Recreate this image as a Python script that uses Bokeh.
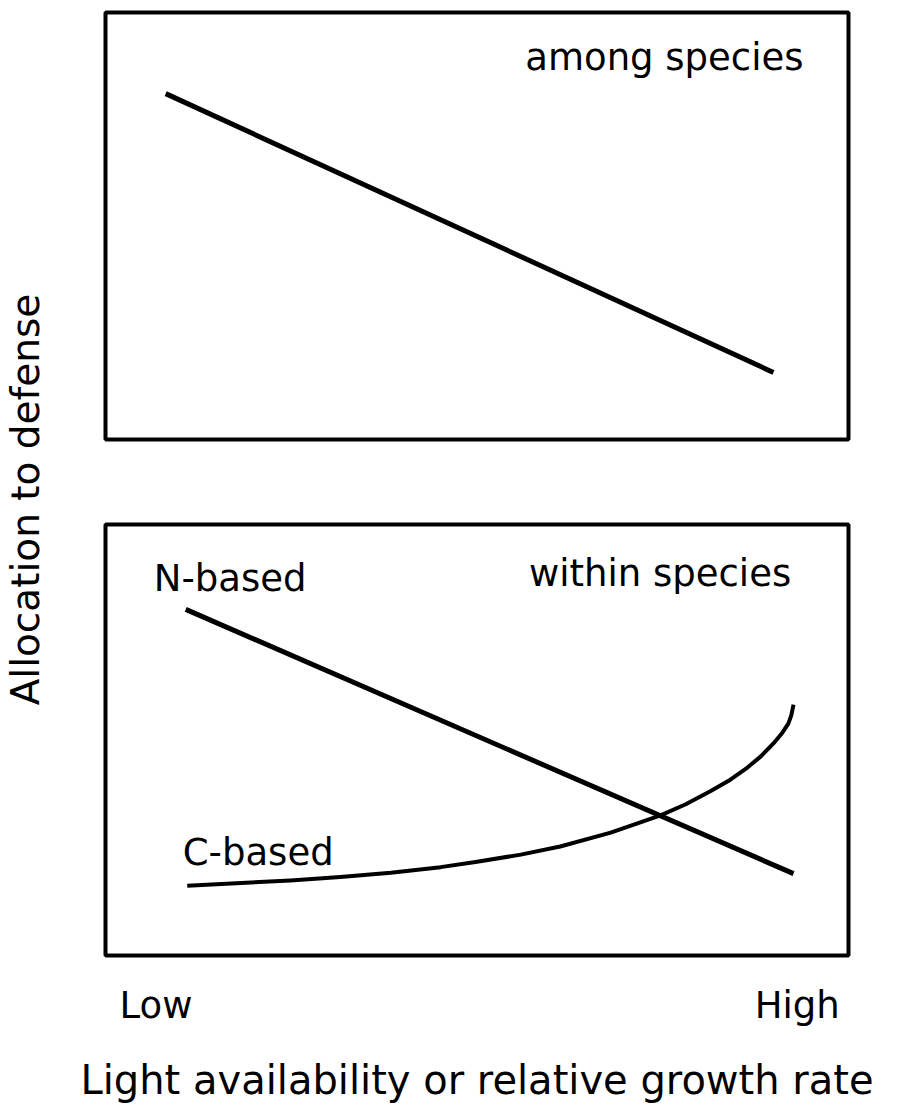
import math
from bokeh.plotting import figure
from bokeh.layouts import row, column
from bokeh.models import Range1d, Label, FixedTicker
from bokeh.embed import file_html
from bokeh.resources import INLINE

# ---- data (relative units, 0..10 on both axes) ----
among_x = [0.81, 8.99]
among_y = [8.10, 1.57]

n_based_x = [1.08, 9.26]
n_based_y = [8.03, 1.90]

c_based_x = [1.10, 2.49, 3.16, 3.84, 4.51, 4.98, 5.59, 6.12, 6.80, 7.47,
             7.81, 8.14, 8.41, 8.64, 8.82, 8.99, 9.11, 9.19, 9.23, 9.26]
c_based_y = [1.62, 1.74, 1.82, 1.92, 2.05, 2.17, 2.34, 2.53, 2.85, 3.25,
             3.51, 3.81, 4.08, 4.36, 4.62, 4.92, 5.17, 5.38, 5.57, 5.82]

x_tick_pos = [0.68, 9.31]
x_tick_labels = ["Low", "High"]

x_title = "Light availability or relative growth rate"
y_title = "Allocation to defense"
top_label = "among species"
bottom_label = "within species"
series_labels = ["N-based", "C-based"]

FONT = "DejaVu Sans"
FS = "37px"
TOTAL_H = 1107


def panel(h, top, bottom):
    p = figure(width=834, height=h, x_range=Range1d(0, 10), y_range=Range1d(0, 10),
               output_backend="svg", toolbar_location=None,
               min_border_left=37, min_border_right=54,
               min_border_top=top, min_border_bottom=bottom)
    p.grid.visible = False
    p.outline_line_color = "black"
    p.outline_line_width = 4
    p.outline_line_alpha = 1.0
    p.background_fill_color = "white"
    p.border_fill_color = "white"
    return p


def add_label(p, x, y, text):
    p.add_layout(Label(x=x, y=y, text=text, text_font=FONT, text_font_size=FS,
                       text_color="black", text_align="left",
                       text_baseline="alphabetic"))


p1 = panel(482, 12, 43)
p1.axis.visible = False
p1.line(among_x, among_y, line_width=5, line_color="black", line_cap="butt")
add_label(p1, 5.65, 8.95, top_label)

p2 = panel(TOTAL_H - 482, 42, TOTAL_H - 482 - 42 - 431)
p2.yaxis.visible = False
p2.line(n_based_x, n_based_y, line_width=5, line_color="black", line_cap="butt")
p2.line(c_based_x, c_based_y, line_width=4, line_color="black", line_cap="butt",
        line_join="round")
add_label(p2, 5.70, 8.86, bottom_label)
add_label(p2, 0.65, 8.75, series_labels[0])
add_label(p2, 1.04, 2.38, series_labels[1])

xa = p2.xaxis[0]
xa.ticker = FixedTicker(ticks=x_tick_pos)
xa.major_label_overrides = {x_tick_pos[i]: x_tick_labels[i] for i in range(2)}
xa.axis_line_color = None
xa.major_tick_line_color = None
xa.minor_tick_line_color = None
xa.major_tick_out = 0
xa.major_tick_in = 0
xa.major_label_standoff = 28
xa.major_label_text_font = FONT
xa.major_label_text_font_size = FS
xa.major_label_text_color = "black"
xa.axis_label = x_title
xa.axis_label_text_font = FONT
xa.axis_label_text_font_size = "40px"
xa.axis_label_text_font_style = "normal"
xa.axis_label_text_color = "black"
xa.axis_label_standoff = 27

left = figure(width=68, height=TOTAL_H, x_range=Range1d(0, 1), y_range=Range1d(0, 1),
              output_backend="svg", toolbar_location=None, min_border=0)
left.axis.visible = False
left.grid.visible = False
left.outline_line_color = None
left.add_layout(Label(x=0.37, y=(TOTAL_H - 499) / TOTAL_H, text=y_title, angle=math.pi / 2,
                      text_font=FONT, text_font_size="39px", text_color="black",
                      text_align="center", text_baseline="middle"))

layout = row(left, column(p1, p2))
open("out.html", "w").write(file_html(layout, INLINE))
